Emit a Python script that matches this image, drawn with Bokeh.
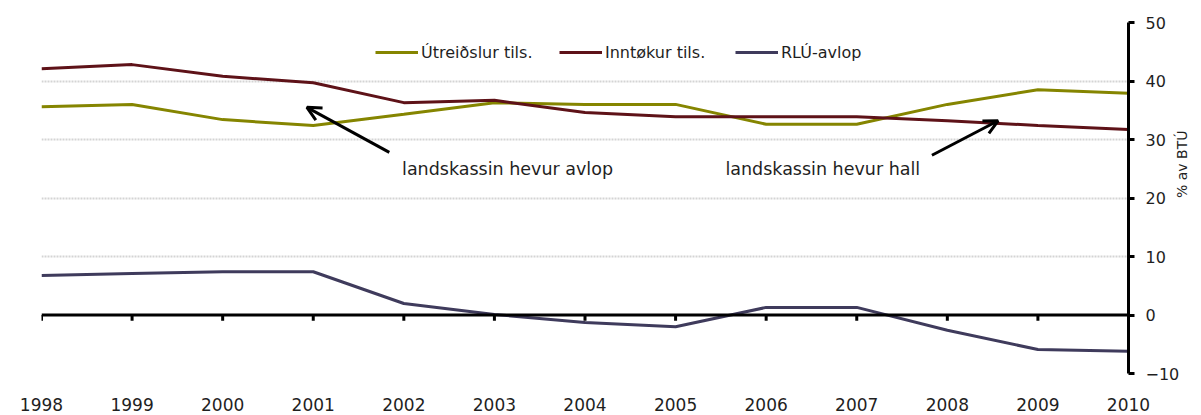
import math
from bokeh.plotting import figure
from bokeh.models import FixedTicker, Span, Label, Arrow, OpenHead, Legend, LegendItem
from bokeh.embed import file_html
from bokeh.resources import INLINE

years = [1998, 1999, 2000, 2001, 2002, 2003, 2004, 2005, 2006, 2007, 2008, 2009, 2010]
utreidslur = [35.6, 36.0, 33.4, 32.4, 34.3, 36.3, 36.0, 36.0, 32.6, 32.6, 36.0, 38.5, 37.9]
inntokur = [42.1, 42.8, 40.8, 39.7, 36.3, 36.7, 34.6, 33.9, 33.9, 33.9, 33.2, 32.4, 31.7]
rlu = [6.75, 7.1, 7.4, 7.4, 1.97, 0.1, -1.3, -2.0, 1.3, 1.3, -2.6, -5.9, -6.2]

series_names = ["Útreiðslur tils.", "Inntøkur tils.", "RLÚ-avlop"]
y_ticks = [-10, 0, 10, 20, 30, 40, 50]
grid_ticks = [-10, 10, 20, 30, 40, 50]
y_title = "% av BTÚ"

notes = ["landskassin hevur avlop", "landskassin hevur hall"]
note_x = [2001.98, 2005.55]
note_y = [25.0, 25.0]
arrow_start = [(2001.84, 27.8), (2007.83, 27.3)]
arrow_end = [(2000.93, 35.5), (2008.56, 33.2)]

FONT = "DejaVu Sans"
TXT = "#1f1f1f"
colors = ["#858500", "#5e1218", "#3f3b5c"]
legend_x = [334, 518, 694]

p = figure(width=1201, height=415, x_range=(1998, 2010), y_range=(-10, 50),
           y_axis_location="right", output_backend="svg", toolbar_location=None,
           min_border_left=41, min_border_right=69, min_border_top=22, min_border_bottom=42)
p.outline_line_color = None
p.background_fill_color = "white"

# grid
p.xgrid.visible = False
p.ygrid.ticker = FixedTicker(ticks=grid_ticks)
p.ygrid.grid_line_color = "#d4d4d4"
p.ygrid.grid_line_width = 2
p.ygrid.grid_line_dash = "2 1"

# right axis
ya = p.yaxis[0]
ya.ticker = FixedTicker(ticks=y_ticks)
ya.axis_line_width = 3
ya.axis_line_color = "black"
ya.major_tick_line_width = 3
ya.major_tick_out = 6
ya.major_tick_in = 0
ya.minor_tick_line_color = None
ya.major_label_text_font = FONT
ya.major_label_text_font_size = "16px"
ya.major_label_text_color = TXT
ya.major_label_standoff = 11
ya.axis_label = y_title
ya.axis_label_text_font = FONT
ya.axis_label_text_font_size = "14px"
ya.axis_label_text_font_style = "normal"
ya.axis_label_text_color = TXT
ya.axis_label_standoff = 0
if "axis_label_orientation" in ya.properties():
    ya.axis_label_orientation = math.pi / 2

# bottom axis (labels only)
xa = p.xaxis[0]
xa.ticker = FixedTicker(ticks=years)
xa.axis_line_color = None
xa.major_tick_line_color = None
xa.minor_tick_line_color = None
xa.major_tick_out = 0
xa.major_label_text_font = FONT
xa.major_label_text_font_size = "17px"
xa.major_label_text_color = TXT
xa.major_label_standoff = 24

# zero line with ticks
p.add_layout(Span(location=0, dimension="width", line_color="black", line_width=3))
p.segment(x0=years, y0=[0] * len(years), x1=years, y1=[-1.0] * len(years),
          line_color="black", line_width=3)

renderers = []
for vals, c in zip([utreidslur, inntokur, rlu], colors):
    r = p.line(years, vals, line_color=c, line_width=3)
    renderers.append(r)

for n, r, lx in zip(series_names, renderers, legend_x):
    legend = Legend(items=[LegendItem(label=n, renderers=[r])],
                    orientation="horizontal", location=(lx, 311))
    legend.border_line_color = None
    legend.background_fill_alpha = 0
    legend.label_text_font = FONT
    legend.label_text_font_size = "16px"
    legend.label_text_color = TXT
    legend.glyph_width = 43
    legend.glyph_height = 20
    legend.label_standoff = 3
    legend.padding = 0
    legend.margin = 0
    p.add_layout(legend, "center")

for t, x, y in zip(notes, note_x, note_y):
    p.add_layout(Label(x=x, y=y, text=t, text_font=FONT, text_font_size="17.5px",
                       text_color=TXT, text_baseline="middle", text_align="left"))

for (xs, ys), (xe, ye) in zip(arrow_start, arrow_end):
    p.add_layout(Arrow(end=OpenHead(size=14, line_width=3, line_color="black"),
                       x_start=xs, y_start=ys, x_end=xe, y_end=ye,
                       line_width=3, line_color="black"))

open("out.html", "w").write(file_html(p, INLINE))
